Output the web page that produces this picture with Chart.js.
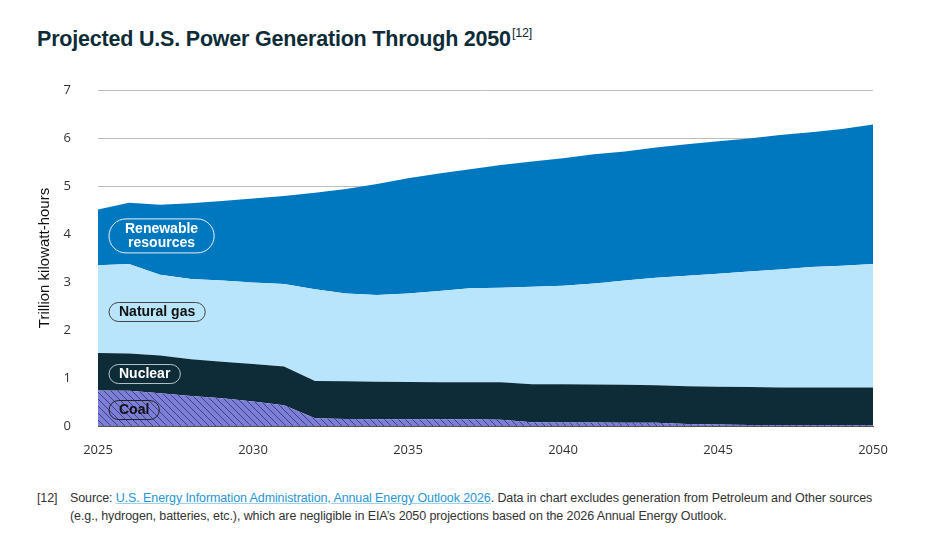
<!DOCTYPE html>
<html>
<head>
<meta charset="utf-8">
<script src="https://cdn.jsdelivr.net/npm/chart.js@4.4.1/dist/chart.umd.min.js"></script>
<style>
  html, body { margin: 0; padding: 0; background: #fff; }
  body { width: 929px; height: 555px; position: relative; overflow: hidden; font-family: "Liberation Sans", Arial, sans-serif; }
  #title { position: absolute; left: 37px; top: 26px; font-size: 21.5px; font-weight: bold; color: #0E2B38; white-space: nowrap; letter-spacing: -0.2px; }
  #title sup { font-size: 12.5px; font-weight: normal; vertical-align: 9px; margin-left: 1px; }
  #wrap { position: absolute; left: 0; top: 70px; width: 929px; height: 400px; }
  #note { position: absolute; left: 37px; top: 489px; width: 870px; font-size: 12.5px; letter-spacing: -0.1px; line-height: 18px; color: #333; }
  #note .num { position: absolute; left: 0; top: 0; }
  #note .txt { margin-left: 33px; width: 815px; }
  #note a { color: #2A95D3; text-decoration: underline; text-decoration-color: #9ED3F0; }
</style>
</head>
<body>
<div id="title">Projected U.S. Power Generation Through 2050<sup>[12]</sup></div>
<div id="wrap"><canvas id="c"></canvas></div>
<div id="note"><span class="num">[12]</span><div class="txt">Source: <a>U.S. Energy Information Administration, Annual Energy Outlook 2026</a>. Data in chart excludes generation from Petroleum and Other sources (e.g., hydrogen, batteries, etc.), which are negligible in EIA’s 2050 projections based on the 2026 Annual Energy Outlook.</div></div>
<script>
// Years (categories)
const years = [2025,2026,2027,2028,2029,2030,2031,2032,2033,2034,2035,2036,2037,2038,2039,2040,2041,2042,2043,2044,2045,2046,2047,2048,2049,2050];
// Series values, trillion kWh (stacked)
const coal = [0.74,0.735,0.68,0.625,0.58,0.51,0.43,0.16,0.145,0.14,0.14,0.14,0.14,0.13,0.08,0.075,0.075,0.07,0.07,0.04,0.03,0.02,0.02,0.02,0.02,0.02];
const nuclear = [0.78,0.775,0.79,0.765,0.76,0.78,0.81,0.78,0.785,0.78,0.775,0.77,0.77,0.78,0.79,0.795,0.79,0.79,0.78,0.79,0.79,0.79,0.78,0.78,0.78,0.78];
const naturalGas = [1.83,1.865,1.68,1.67,1.69,1.70,1.72,1.91,1.83,1.81,1.845,1.90,1.96,1.97,2.03,2.05,2.105,2.17,2.24,2.30,2.35,2.41,2.46,2.51,2.54,2.575];
const renewables = [1.16,1.275,1.46,1.58,1.66,1.75,1.83,2.01,2.18,2.31,2.40,2.45,2.48,2.56,2.61,2.66,2.69,2.69,2.71,2.74,2.76,2.77,2.80,2.81,2.85,2.905];
// Axis ticks
const yTicks = [0,1,2,3,4,5,6,7];
const xTickYears = [2025,2030,2035,2040,2045,2050];
// In-chart series labels (y value of label centre)
const seriesLabels = [
  { lines: ['Renewable','resources'], y: 3.96, text: '#ffffff', stroke: '#e8f2fa' },
  { lines: ['Natural gas'], y: 2.375, text: '#111111', stroke: '#444444' },
  { lines: ['Nuclear'], y: 1.083, text: '#ffffff', stroke: '#b9c3c8' },
  { lines: ['Coal'], y: 0.333, text: '#111111', stroke: '#222222' }
];

function hatch() {
  const s = 7;
  const cv = document.createElement('canvas');
  cv.width = s; cv.height = s;
  const g = cv.getContext('2d');
  g.fillStyle = '#7C7ED8';
  g.fillRect(0, 0, s, s);
  g.strokeStyle = 'rgba(30,30,80,0.8)';
  g.lineWidth = 0.8;
  g.beginPath();
  g.moveTo(-1, -1); g.lineTo(s + 1, s + 1);
  g.moveTo(-1, s - 1); g.lineTo(1, s + 1);
  g.moveTo(s - 1, -1); g.lineTo(s + 1, 1);
  g.stroke();
  return g.createPattern(cv, 'repeat');
}

const labelPlugin = {
  id: 'seriesLabels',
  afterDatasetsDraw(chart) {
    const ctx = chart.ctx;
    const ys = chart.scales.y;
    const left = chart.chartArea.left + 11;
    ctx.save();
    ctx.font = 'bold 14px "Liberation Sans", Arial, sans-serif';
    seriesLabels.forEach(l => {
      const cy = ys.getPixelForValue(l.y);
      const lh = 14;
      const multi = l.lines.length > 1;
      const w = Math.max(...l.lines.map(t => ctx.measureText(t).width)) + (multi ? 32 : 20);
      const h = multi ? 34 : 19;
      const top = cy - h / 2;
      const r = h / 2;
      ctx.beginPath();
      ctx.moveTo(left + r, top);
      ctx.lineTo(left + w - r, top);
      ctx.arc(left + w - r, cy, r, -Math.PI / 2, Math.PI / 2);
      ctx.lineTo(left + r, top + h);
      ctx.arc(left + r, cy, r, Math.PI / 2, Math.PI * 1.5);
      ctx.closePath();
      ctx.lineWidth = 1;
      ctx.strokeStyle = l.stroke;
      ctx.stroke();
      ctx.fillStyle = l.text;
      ctx.textAlign = 'center';
      ctx.textBaseline = 'middle';
      l.lines.forEach((t, i) => {
        ctx.fillText(t, left + w / 2, cy + (i - (l.lines.length - 1) / 2) * lh + 0.5);
      });
    });
    ctx.restore();
  }
};

const base = { pointRadius: 0, pointHoverRadius: 0, borderWidth: 0, tension: 0 };
new Chart(document.getElementById('c'), {
  type: 'line',
  data: {
    labels: years,
    datasets: [
      Object.assign({ label: 'Coal', data: coal, backgroundColor: hatch(), borderColor: '#7C7ED8', fill: 'origin' }, base),
      Object.assign({ label: 'Nuclear', data: nuclear, backgroundColor: '#0E2B38', borderColor: '#0E2B38', fill: '-1' }, base),
      Object.assign({ label: 'Natural gas', data: naturalGas, backgroundColor: '#B8E5FB', borderColor: '#B8E5FB', fill: '-1' }, base),
      Object.assign({ label: 'Renewable resources', data: renewables, backgroundColor: '#0078C0', borderColor: '#0078C0', fill: '-1' }, base)
    ]
  },
  options: {
    responsive: true,
    maintainAspectRatio: false,
    animation: false,
    layout: { padding: { top: 20, right: 56, left: 0, bottom: 0 } },
    plugins: { legend: { display: false }, tooltip: { enabled: false } },
    scales: {
      x: {
        type: 'category',
        offset: false,
        grid: { display: false, drawTicks: false },
        border: { display: true, color: '#555', width: 1 },
        ticks: {
          autoSkip: false, maxRotation: 0, padding: 16,
          color: '#333', font: { family: '"Open Sans", sans-serif', size: 13 },
          callback: function (v) { const yr = years[v]; return xTickYears.includes(yr) ? String(yr) : null; }
        },
        afterFit(s) { s.height = 44; }
      },
      y: {
        stacked: true,
        min: 0, max: 7,
        afterBuildTicks(s) { s.ticks = yTicks.map(v => ({ value: v })); },
        grid: { color: ctx => ctx.tick && ctx.tick.value === 0 ? '#555' : '#bdbdbd', drawTicks: false, lineWidth: 1 },
        border: { display: false },
        ticks: { padding: 27, color: '#333', font: { family: '"Open Sans", sans-serif', size: 13 } },
        title: { display: true, text: 'Trillion kilowatt-hours', color: '#111', font: { family: '"Liberation Sans", Arial, sans-serif', size: 15 }, padding: { top: 36, bottom: 0 } },
        afterFit(s) { s.width = 98; s.paddingTop = 0; s.paddingBottom = 0; }
      }
    }
  },
  plugins: [labelPlugin]
});
</script>
</body>
</html>
